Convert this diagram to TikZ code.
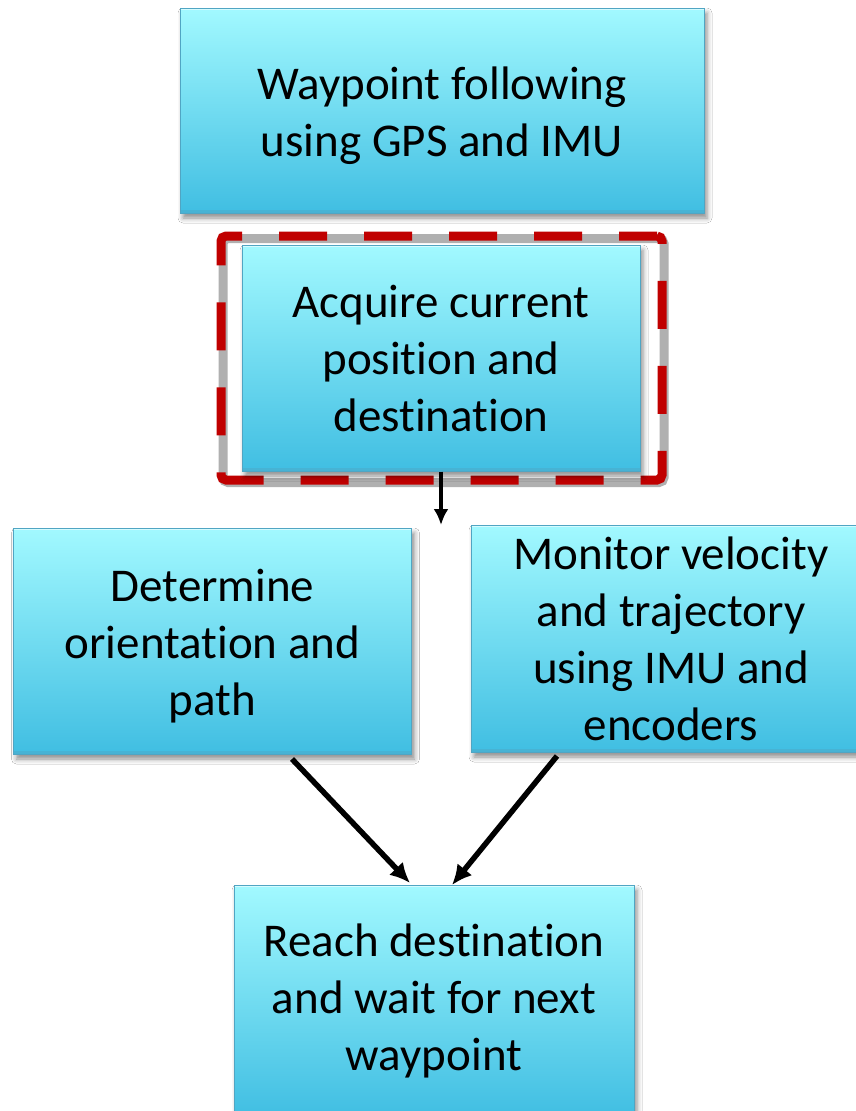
\documentclass[tikz,border=0pt]{standalone}
\usepackage{fontspec}
\setmainfont{Carlito}[Ligatures={NoCommon,NoContextual,NoRequired},Contextuals=NoAlternate]
\usetikzlibrary{arrows.meta,shadows.blur}
\definecolor{boxtop}{RGB}{162,249,255}
\definecolor{boxbot}{RGB}{64,190,226}
\definecolor{boxedge}{RGB}{80,165,195}
\definecolor{frred}{RGB}{192,0,0}
\definecolor{frgray}{RGB}{176,176,176}
\newcommand\lowtext[1]{\raisebox{-6pt}[\height][\depth]{\begin{tabular}{@{}c@{}}#1\end{tabular}}}
\newcommand\tiNL{t\kern0pt i}
\tikzset{
  box/.style={rectangle, draw=boxedge, line width=1pt,
    top color=boxtop, bottom color=boxbot,
    align=center, inner sep=0pt, text=black,
    font=\fontsize{47}{57}\selectfont,
    blur shadow={shadow xshift=3pt, shadow yshift=-5pt, shadow blur radius=5pt, shadow opacity=45},
    path picture={
      \draw[white, opacity=0.55, line width=4pt]
        (path picture bounding box.north west) -- (path picture bounding box.north east);
      \draw[boxedge, opacity=0.45, line width=6pt]
        (path picture bounding box.south west) -- (path picture bounding box.south east);
    }},
  frshadow/.style={draw=frgray, line width=9pt, rounded corners=5pt, fill=none, inner sep=0pt},
  frdash/.style={draw=frred, line width=9pt, rounded corners=5pt, fill=none, inner sep=0pt,
    dash pattern=on 48pt off 37pt, dash phase=10pt},
  arr/.style={draw=black, line width=5.5pt, -{Latex[length=20pt,width=19pt]}},
  arrv/.style={draw=black, line width=3.8pt, -{Latex[length=16pt,width=15pt]}}
}
\begin{document}
\begin{tikzpicture}[x=1pt,y=-1pt]
\useasboundingbox (0,0) rectangle (856,1111);
\clip (0,0) rectangle (856,1111);
\fill[white] (0,0) rectangle (856,1111);

% top box
\node[box, minimum width=524pt, minimum height=205pt] (b1) at (442,110.5)
  {\lowtext{Waypoint following\\using GPS and IMU}};

% dashed frame (shadow + red dashes)
\node[frshadow, minimum width=441pt, minimum height=244pt] (frs) at (443.5,360.5) {};
\node[frdash, minimum width=441pt, minimum height=244pt] (fr) at (441.5,358) {};

% second box
\node[box, minimum width=398pt, minimum height=226pt] (b2) at (441,358)
  {Acquire current\\posi\tiNL on and\\des\tiNL na\tiNL on};

% middle row
\node[box, minimum width=398pt, minimum height=226pt] (b3) at (212.5,641)
  {\lowtext{Determine\\orienta\tiNL on and\\path}};
\node[box, minimum width=400pt, minimum height=227pt] (b4) at (671,638.5)
  {Monitor velocity\\and trajectory\\using IMU and\\encoders};

% bottom box
\node[box, minimum width=400pt, minimum height=232pt] (b5) at (434,1001)
  {Reach des\tiNL na\tiNL on\\and wait for next\\waypoint};

% connectors
\coordinate (t0) at (441,525);
\draw[arrv] (b2.south) -- (t0);

\coordinate (s3) at (292,759);
\coordinate (e3) at (410,883);
\coordinate (s4) at (557,756);
\coordinate (e4) at (452,885);
\draw[arr] (s3) -- (e3);
\draw[arr] (s4) -- (e4);
\end{tikzpicture}
\end{document}
